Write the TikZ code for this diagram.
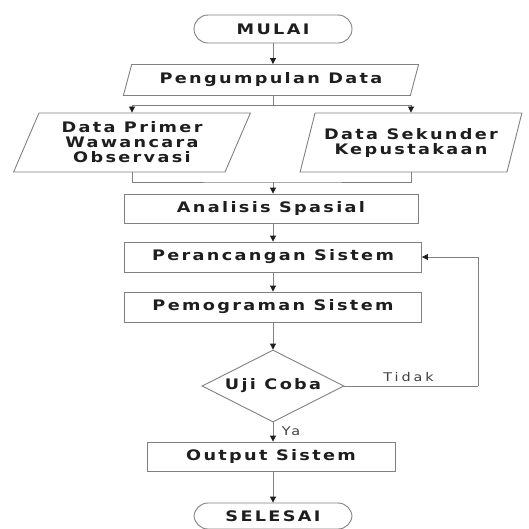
\documentclass[tikz,border=0pt]{standalone}
\usepackage{fontspec}
\setmainfont{DejaVu Sans}
\usetikzlibrary{shapes.geometric,arrows.meta,positioning}
\newfontfamily\boxfont[LetterSpace=16,FakeStretch=1.22]{DejaVu Sans Bold}
\newfontfamily\lblfont[LetterSpace=24,FakeStretch=1.2]{DejaVu Sans}
\definecolor{linegray}{HTML}{808080}
\definecolor{txtgray}{HTML}{1E1E1E}
\tikzset{
  base/.style={draw=linegray, line width=0.9pt, text=txtgray, font=\boxfont\fontsize{14.5}{15}\selectfont, align=center, inner sep=0pt},
  term/.style={base, rectangle, rounded corners=14pt, minimum width=158pt, minimum height=28pt},
  procbox/.style={base, rectangle, minimum height=30pt},
  iobox/.style={base, trapezium, trapezium left angle=65, trapezium right angle=115, trapezium stretches=true},
  decide/.style={base, diamond, aspect=2, minimum width=142pt, minimum height=72pt},
  conn/.style={draw=linegray, line width=0.9pt, -{Triangle[length=6pt,width=6pt,fill=txtgray,color=txtgray]}},
  plainconn/.style={draw=linegray, line width=0.9pt},
  lbl/.style={text=txtgray!85, font=\lblfont\fontsize{12}{14}\selectfont}
}
\begin{document}
\begin{tikzpicture}[x=1pt,y=-1pt]
\useasboundingbox (0,0) rectangle (529,528);
\node[term] (mulai) at (273,29) {MULAI};
\node[iobox, minimum width=296pt, minimum height=31pt] (peng) at (271,80) {Pengumpulan Data};
\node[iobox, minimum width=237pt, minimum height=59pt] (prim) at (132,142.5) {Data Primer\\Wawancara\\Observasi};
\node[iobox, minimum width=222pt, minimum height=59pt] (sek) at (411,142.5) {Data Sekunder\\Kepustakaan};
\node[procbox, minimum width=294pt, minimum height=29pt] (anal) at (271,208.5) {Analisis Spasial};
\node[procbox, minimum width=297pt] (peran) at (273,257) {Perancangan Sistem};
\node[procbox, minimum width=297pt] (pemo) at (273,307) {Pemograman Sistem};
\node[decide] (uji) at (273,386) {Uji Coba};
\node[procbox, minimum width=248pt, minimum height=29pt] (out) at (271,456.5) {Output Sistem};
\node[term, minimum height=26pt] (selesai) at (273,516) {SELESAI};
\coordinate (split) at (273,105);
\coordinate (merge) at (273,182);
\coordinate (back) at (478,386);
\draw[conn] (mulai.south) -- (mulai.south |- peng.north);
\draw[plainconn] (mulai.south |- peng.south) -- (split);
\draw[conn] (split) -| (prim.north);
\draw[conn] (split) -| (sek.north);
\draw[plainconn] (prim.south) |- (merge) -| (sek.south);
\draw[conn] (merge) -- (merge |- anal.north);
\draw[conn] (peran.north |- anal.south) -- (peran.north);
\draw[conn] (peran) -- (pemo);
\draw[conn] (pemo) -- (uji);
\draw[conn] (uji.south) -- node[lbl, right=5pt, pos=0.45] {Ya} (uji.south |- out.north);
\draw[conn] (uji.south |- out.south) -- (selesai.north);
\draw[plainconn] (uji.east) -- node[lbl, above=1pt, pos=0.48] {Tidak} (back);
\draw[conn] (back) |- (peran.east);
\end{tikzpicture}
\end{document}
